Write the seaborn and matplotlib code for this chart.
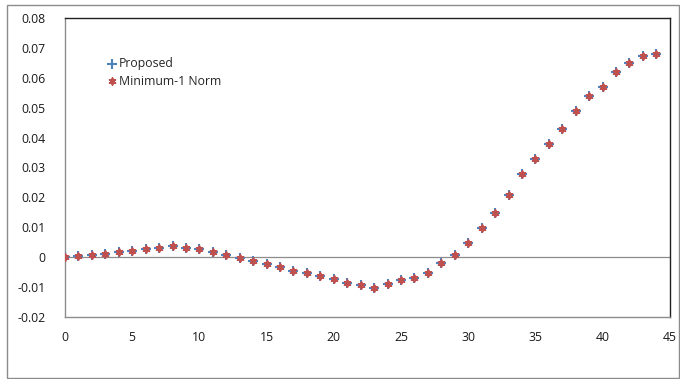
import matplotlib
matplotlib.use('Agg')
import numpy as np
import pandas as pd
import matplotlib.pyplot as plt
import matplotlib.ticker as mticker
from matplotlib.patches import Rectangle
import seaborn as sns

sns.set_theme(style='white')
plt.rcParams['font.family'] = ['Open Sans', 'DejaVu Sans']

# values
x_vals = list(range(45))
proposed = [0.0000, 0.0003, 0.0007, 0.0011, 0.0016, 0.0021, 0.0026, 0.0031, 0.0038, 0.0031,
            0.0026, 0.0017, 0.0008, -0.0004, -0.0013, -0.0023, -0.0034, -0.0045, -0.0053, -0.0063,
            -0.0073, -0.0085, -0.0094, -0.0102, -0.0089, -0.0077, -0.0068, -0.0052, -0.0021, 0.0007,
            0.0047, 0.0096, 0.0147, 0.0207, 0.0278, 0.0327, 0.0379, 0.0429, 0.0490, 0.0539,
            0.0568, 0.0621, 0.0651, 0.0672, 0.0681]
min_norm = [0.0000, 0.0003, 0.0007, 0.0011, 0.0016, 0.0021, 0.0026, 0.0031, 0.0038, 0.0031,
            0.0026, 0.0017, 0.0008, -0.0004, -0.0013, -0.0023, -0.0034, -0.0045, -0.0053, -0.0063,
            -0.0073, -0.0085, -0.0094, -0.0102, -0.0089, -0.0077, -0.0068, -0.0052, -0.0021, 0.0007,
            0.0047, 0.0096, 0.0147, 0.0207, 0.0278, 0.0327, 0.0379, 0.0429, 0.0490, 0.0539,
            0.0568, 0.0621, 0.0651, 0.0672, 0.0681]
x_ticks = [0, 5, 10, 15, 20, 25, 30, 35, 40, 45]
y_ticks = [-0.02, -0.01, 0, 0.01, 0.02, 0.03, 0.04, 0.05, 0.06, 0.07, 0.08]

df = pd.DataFrame({'x': x_vals, 'Proposed': proposed, 'Minimum-1 Norm': min_norm})

fig = plt.figure(figsize=(6.8, 3.79), dpi=100)
ax = fig.add_axes([0.0956, 0.1636, 0.8894, 0.7889])

# outer chart border like the spreadsheet frame
fig.patches.append(Rectangle((7 / 680, 1 / 379), 672 / 680, 373 / 379, transform=fig.transFigure,
                             fill=False, edgecolor='#8c8c8c', linewidth=1.0))

ax.axhline(0, color='#8c8c8c', linewidth=0.9, zorder=1)

sns.scatterplot(data=df, x='x', y='Proposed', marker='+', s=55, color='#4F81BD',
                linewidth=1.5, label='Proposed', ax=ax, zorder=3)
sns.scatterplot(data=df, x='x', y='Minimum-1 Norm', marker=(6, 2, 0), s=22, color='#C0504D',
                linewidth=1.3, label='Minimum-1 Norm', ax=ax, zorder=4)

ax.set_xlim(0, 45)
ax.set_ylim(-0.02, 0.08)
ax.set_xticks(x_ticks)
ax.set_yticks(y_ticks)
ax.yaxis.set_major_formatter(mticker.FuncFormatter(lambda v, p: '0' if abs(v) < 1e-9 else f'{v:.2f}'))
ax.tick_params(axis='both', length=0, labelsize=8.8, colors='#1a1a1a')
ax.tick_params(axis='x', pad=10)
ax.tick_params(axis='y', pad=14)
ax.set_xlabel('')
ax.set_ylabel('')

for side in ['left', 'bottom']:
    ax.spines[side].set_color('#8c8c8c')
    ax.spines[side].set_linewidth(1.0)
for side in ['top', 'right']:
    ax.spines[side].set_color('#202020')
    ax.spines[side].set_linewidth(1.0)

ax.legend(loc='upper left', bbox_to_anchor=(0.06, 0.885), frameon=False, fontsize=8.8,
          handletextpad=0.05, labelspacing=0.35, borderaxespad=0, handlelength=1.0)

plt.savefig('out.png', dpi=100)
plt.close()
